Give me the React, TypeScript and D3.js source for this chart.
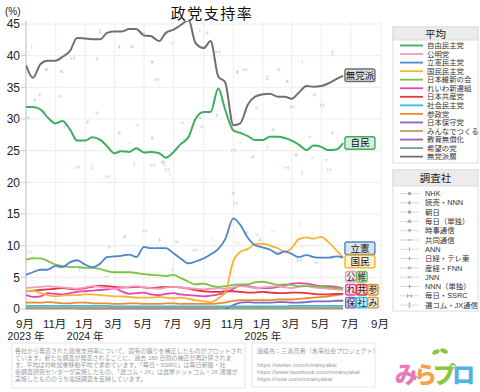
import React from 'react';
import * as d3 from 'd3';

// half-month sampling dates of the averaged lines
const dates = [
  '2023-09-01', '2023-09-15', '2023-10-01', '2023-10-15', '2023-11-01', '2023-11-15', '2023-12-01', '2023-12-15',
  '2024-01-01', '2024-01-15', '2024-02-01', '2024-02-15', '2024-03-01', '2024-03-15', '2024-04-01', '2024-04-15',
  '2024-05-01', '2024-05-15', '2024-06-01', '2024-06-15', '2024-07-01', '2024-07-15', '2024-08-01', '2024-08-15',
  '2024-09-01', '2024-09-15', '2024-10-01', '2024-10-15', '2024-11-01', '2024-11-15', '2024-12-01', '2024-12-15',
  '2025-01-01', '2025-01-15', '2025-02-01', '2025-02-15', '2025-03-01', '2025-03-15', '2025-04-01', '2025-04-15',
  '2025-05-01', '2025-05-15', '2025-06-01', '2025-06-15',
];

const jimin = [31.9, 31.9, 31.5, 30.3, 29.3, 29.7, 28.3, 26.6, 26.6, 27.1, 26.7, 25.7, 24.6, 24.9, 24.8, 25.4, 24.7, 24.8, 24.6, 23.9, 24.8, 26.0, 27.2, 30.0, 31.1, 31.1, 34.8, 31.5, 28.2, 27.8, 27.3, 26.7, 26.7, 27.2, 27.2, 27.0, 26.6, 26.0, 25.1, 25.8, 25.6, 25.1, 25.2, 26.2];
const komei = [3.3, 3.4, 3.5, 3.6, 3.5, 3.4, 3.3, 3.2, 3.4, 3.6, 3.5, 3.3, 3.2, 3.3, 3.5, 3.6, 3.4, 3.3, 3.2, 3.4, 3.5, 3.4, 3.3, 3.2, 3.1, 3.2, 3.3, 3.2, 3.4, 3.6, 3.5, 3.3, 3.4, 3.5, 3.6, 3.4, 3.3, 3.5, 3.6, 3.4, 3.3, 3.2, 3.1, 3.0];
const rikken = [5.4, 5.8, 6.2, 6.2, 6.8, 6.6, 7.4, 7.7, 7.0, 6.6, 7.2, 8.2, 8.3, 8.4, 8.6, 8.2, 9.8, 9.6, 9.6, 9.6, 8.8, 8.0, 7.2, 7.5, 8.0, 8.6, 9.5, 11.0, 14.3, 13.3, 11.2, 10.1, 9.7, 9.4, 8.7, 9.1, 8.7, 8.2, 8.5, 8.2, 8.1, 8.1, 8.3, 8.1];
const kokumin = [2.8, 2.9, 2.5, 2.2, 2.0, 2.1, 2.2, 2.2, 2.3, 2.3, 2.2, 2.1, 2.0, 2.0, 1.9, 1.8, 1.8, 1.8, 1.9, 1.8, 1.7, 1.8, 1.6, 1.4, 1.2, 1.1, 1.7, 2.6, 7.6, 9.0, 9.5, 10.2, 10.3, 10.0, 9.6, 9.0, 9.6, 11.0, 11.3, 11.1, 11.4, 10.6, 9.3, 8.1];
const ishin = [7.8, 8.0, 8.0, 7.6, 7.0, 6.8, 6.6, 6.6, 6.5, 6.5, 6.3, 6.0, 5.8, 5.8, 5.8, 5.7, 5.5, 5.4, 5.3, 5.2, 5.4, 4.9, 4.3, 3.9, 4.0, 3.7, 3.5, 3.6, 3.8, 3.9, 3.9, 4.2, 4.3, 4.1, 3.8, 3.9, 3.8, 3.6, 3.6, 3.6, 3.5, 3.4, 3.3, 3.3];
const reiwa = [2.2, 1.9, 2.0, 2.5, 2.4, 2.3, 2.5, 2.7, 2.8, 2.9, 3.0, 3.1, 3.3, 2.8, 2.4, 2.5, 2.6, 2.3, 2.2, 2.4, 2.5, 2.3, 2.2, 2.1, 2.0, 2.1, 2.3, 2.6, 3.2, 3.7, 3.6, 3.4, 3.3, 3.3, 3.5, 3.7, 4.0, 4.1, 4.0, 3.8, 3.6, 3.6, 3.5, 3.3];
const kyosan = [2.8, 2.9, 3.0, 3.1, 3.2, 3.3, 3.2, 3.1, 3.3, 3.5, 3.7, 3.6, 3.5, 3.4, 3.4, 3.5, 3.4, 3.3, 3.4, 3.5, 3.5, 3.4, 3.2, 3.0, 2.8, 2.7, 2.7, 2.8, 2.8, 2.7, 2.6, 2.6, 2.7, 2.6, 2.5, 2.5, 2.6, 2.6, 2.5, 2.4, 2.3, 2.3, 2.4, 2.4];
const shamin = [0.5, 0.5, 0.5, 0.5, 0.5, 0.5, 0.5, 0.5, 0.5, 0.5, 0.5, 0.5, 0.4, 0.4, 0.4, 0.4, 0.4, 0.4, 0.4, 0.4, 0.4, 0.4, 0.4, 0.4, 0.4, 0.4, 0.4, 0.4, 0.4, 0.4, 0.4, 0.4, 0.4, 0.4, 0.4, 0.4, 0.5, 0.5, 0.5, 0.5, 0.5, 0.5, 0.5, 0.5];
const sansei = [1.0, 1.0, 1.0, 1.1, 1.0, 0.9, 0.9, 1.0, 1.0, 0.9, 0.9, 0.9, 0.8, 0.8, 0.9, 0.9, 0.8, 0.8, 0.8, 0.9, 0.9, 0.8, 0.8, 0.8, 0.8, 0.8, 0.9, 1.0, 1.3, 1.4, 1.4, 1.4, 1.4, 1.4, 1.5, 1.5, 1.5, 1.6, 1.7, 1.8, 1.9, 2.0, 2.2, 2.3];
const hoshu = [null, null, null, null, null, null, null, null, null, null, null, null, null, null, null, null, null, null, null, null, null, null, null, null, null, null, null, 0.0, 0.6, 1.0, 1.1, 1.0, 1.0, 1.0, 1.1, 1.1, 1.0, 1.0, 1.1, 1.2, 1.2, 1.2, 1.3, 1.3];
const minna = [0.2, 0.2, 0.2, 0.2, 0.2, 0.2, 0.2, 0.2, 0.2, 0.2, 0.2, 0.2, 0.2, 0.2, 0.2, 0.2, 0.2, 0.2, 0.2, 0.2, 0.2, 0.2, 0.2, 0.2, 0.2, 0.2, 0.2, 0.2, 0.2, 0.2, 0.2, 0.2, 0.2, 0.2, 0.2, 0.2, 0.2, 0.2, 0.2, 0.2, 0.2, 0.2, 0.2, 0.2];
const kyoiku = [null, null, null, null, null, null, null, 0.1, 0.1, 0.1, 0.1, 0.1, 0.1, 0.1, 0.1, 0.1, 0.1, 0.1, 0.1, 0.1, 0.1, 0.1, 0.1, 0.1, 0.1, 0.1, 0.1, null, null, null, null, null, null, null, null, null, null, null, null, null, null, null, null, null];
const kibo = [0.05, 0.05, 0.05, 0.05, 0.05, 0.05, 0.05, 0.05, 0.05, 0.05, 0.05, 0.05, 0.05, 0.05, 0.05, 0.05, 0.05, 0.05, 0.05, 0.05, 0.05, 0.05, 0.05, 0.05, 0.05, 0.05, 0.05, 0.05, 0.05, 0.05, 0.05, 0.05, 0.05, 0.05, 0.05, 0.05, 0.05, 0.05, 0.05, 0.05, 0.05, 0.05, 0.05, 0.05];
const mutoha = [38.5, 36.5, 38.7, 39.2, 39.2, 39.8, 40.8, 42.8, 42.7, 42.6, 42.6, 43.6, 43.8, 43.8, 44.2, 44.2, 43.2, 43.1, 42.3, 43.6, 44.1, 44.8, 45.6, 42.0, 41.2, 42.3, 36.7, 35.8, 29.0, 29.3, 32.3, 33.5, 33.9, 34.0, 33.5, 33.5, 33.2, 34.1, 35.2, 35.1, 35.2, 35.6, 36.3, 36.8];

// individual poll results: [date, value, pollster index]
const jiminPolls = [
  ['2023-09-05', 30.2, 0], ['2023-09-19', 33.0, 1], ['2023-09-29', 33.8, 7], ['2023-10-09', 31.1, 3], ['2023-11-09', 33.6, 8],
  ['2023-11-19', 28.8, 4], ['2023-12-16', 22.4, 11], ['2024-01-06', 29.5, 1], ['2024-01-14', 22.3, 12], ['2024-01-25', 31.0, 7],
  ['2024-02-16', 20.9, 11], ['2024-03-11', 27.8, 0], ['2024-04-01', 26.2, 5], ['2024-04-11', 22.9, 12], ['2024-04-17', 29.1, 9],
  ['2024-05-18', 27.0, 2], ['2024-05-19', 22.7, 11], ['2024-06-08', 23.2, 3], ['2024-06-12', 23.0, 12], ['2024-06-18', 22.0, 11],
  ['2024-06-23', 21.3, 6], ['2024-07-19', 29.4, 8], ['2024-07-23', 26.7, 4], ['2024-08-24', 30.2, 0], ['2024-08-28', 28.8, 10],
  ['2024-09-28', 30.6, 1], ['2024-10-08', 33.0, 7], ['2024-11-01', 25.1, 11], ['2024-11-15', 26.2, 5], ['2024-12-11', 24.0, 2],
  ['2025-01-10', 25.6, 6], ['2025-01-22', 28.3, 8], ['2025-02-12', 27.0, 0], ['2025-02-19', 22.3, 11], ['2025-03-10', 24.3, 3],
  ['2025-03-22', 21.5, 12], ['2025-04-07', 27.2, 7], ['2025-04-13', 23.9, 9], ['2025-05-11', 23.5, 4], ['2025-05-17', 22.0, 11],
  ['2025-05-24', 27.8, 1],
];
const mutohaPolls = [
  ['2023-09-13', 41.4, 6], ['2023-10-13', 37.8, 0], ['2023-11-13', 37.5, 3], ['2023-12-06', 39.6, 11], ['2024-01-25', 39.5, 7],
  ['2024-02-01', 43.8, 12], ['2024-03-11', 41.4, 1], ['2024-04-07', 41.4, 8], ['2024-04-28', 43.6, 11], ['2024-05-18', 39.0, 0],
  ['2024-05-27', 36.2, 11], ['2024-06-29', 42.0, 5], ['2024-08-24', 44.0, 6], ['2024-09-08', 43.6, 10], ['2024-09-30', 40.6, 11],
  ['2024-11-09', 37.4, 2], ['2024-11-25', 37.8, 11], ['2024-12-19', 31.8, 9], ['2025-01-10', 36.5, 12], ['2025-02-02', 37.8, 7],
  ['2025-02-20', 35.9, 3], ['2025-03-02', 31.9, 11], ['2025-03-23', 39.0, 6], ['2025-04-17', 33.8, 8], ['2025-05-03', 32.2, 11],
  ['2025-05-24', 40.4, 12],
];
const rikkenPolls = [
  ['2024-02-20', 9.8, 7], ['2024-03-22', 11.4, 2], ['2024-05-02', 12.3, 11], ['2024-06-02', 10.9, 1], ['2024-07-07', 10.6, 8],
  ['2024-08-14', 9.3, 11], ['2024-09-20', 10.9, 6], ['2024-11-01', 18.3, 0], ['2024-11-05', 16.7, 11], ['2024-11-29', 12.0, 7],
  ['2024-12-26', 10.9, 3], ['2025-01-31', 8.8, 12], ['2025-03-17', 7.7, 11], ['2025-04-21', 7.3, 8], ['2025-05-24', 8.2, 1],
];
const kokuminPolls = [
  ['2024-11-09', 10.4, 11], ['2024-11-29', 9.3, 7], ['2024-12-19', 11.7, 0], ['2025-01-22', 12.2, 11], ['2025-03-17', 13.3, 12],
  ['2025-03-23', 9.8, 8], ['2025-04-13', 12.0, 6], ['2025-05-11', 10.9, 11],
];
const ishinPolls = [
  ['2023-09-09', 9.0, 11], ['2023-09-15', 8.2, 7], ['2023-12-20', 6.2, 12], ['2024-02-14', 5.1, 11], ['2024-05-12', 5.4, 8],
  ['2024-06-29', 6.2, 1],
];

const partyNames = ['自由民主党', '公明党', '立憲民主党', '国民民主党', '日本維新の会', 'れいわ新選組', '日本共産党', '社会民主党', '参政党', '日本保守党', 'みんなでつくる', '教育無償化', '希望の党', '無党派層'];
const partyColors = ['#3dad5e', '#f49ac1', '#4f86c6', '#f7b431', '#7cc242', '#e544b0', '#e2363b', '#33bde6', '#ee8a2a', '#8068c4', '#c59a58', '#a25ab8', '#6e9e9e', '#6f6f6f'];
const partyValues = [jimin, komei, rikken, kokumin, ishin, reiwa, kyosan, shamin, sansei, hoshu, minna, kyoiku, kibo, mutoha];
const drawOrder = [12, 11, 10, 9, 7, 8, 6, 5, 1, 4, 3, 2, 0, 13];

const pollSets = [
  { party: 0, polls: jiminPolls },
  { party: 13, polls: mutohaPolls },
  { party: 2, polls: rikkenPolls },
  { party: 3, polls: kokuminPolls },
  { party: 4, polls: ishinPolls },
];

const pollsters = ['NHK', '読売・NNN', '朝日', '毎日（単独）', '時事通信', '共同通信', 'ANN', '日経・テレ東', '産経・FNN', 'JNN', 'NNN（単独）', '毎日・SSRC', '選コム・JX通信'];

// end labels: text, party index, value level where box sits, column
const endLabels = [
  { text: '無党派', party: 13, at: 36.9, col: 0 },
  { text: '自民', party: 0, at: 26.2, col: 0 },
  { text: '立憲', party: 2, at: 9.6, col: 0 },
  { text: '国民', party: 3, at: 7.5, col: 0 },
  { text: '公', party: 1, at: 5.1, col: 0 },
  { text: '維', party: 4, at: 5.1, col: 1 },
  { text: 'れ', party: 5, at: 3.05, col: 0 },
  { text: '共', party: 6, at: 3.05, col: 1 },
  { text: '参', party: 8, at: 3.05, col: 2 },
  { text: '保', party: 9, at: 1.0, col: 0 },
  { text: '社', party: 7, at: 1.0, col: 1 },
  { text: 'み', party: 10, at: 1.0, col: 2 },
];

const yTicks = [0, 5, 10, 15, 20, 25, 30, 35, 40, 45];

const noteLines = [
  '各社から発表された政党支持率について、固有の偏りを補正したものがプロットされ',
  'ています。新たな調査が発表されるごとに、過去 180 日間の補正が再計算されま',
  'す。平均は対称加重移動平均で求めています。「毎日・SSRC」は毎日新聞・社',
  '会調査研究センターが実施したもの、「選コム・JX」は選挙ドットコム・JX 通信が',
  '実施したもののうち電話調査を反映しています。',
];
const contactLines = ['連絡先：三春充希（未来社会プロジェクト）', '', 'https://twitter.com/miraisyakai', 'https://www.facebook.com/miraisyakai', 'https://note.com/miraisyakai'];

const logoChars = ['み', 'ら', 'プ', 'ロ'];
const logoColors = ['#e47ab9', '#f5a24a', '#8cc63f', '#4fb3e6'];

const FONT = "'Liberation Sans', 'Noto Sans CJK JP', sans-serif";
const parse = d3.timeParse('%Y-%m-%d');

function marker(k: number, s: number): string {
  const h = s / 2;
  switch (k) {
    case 0: return d3.symbol(d3.symbolCircle, s * s * 0.6)() as string;
    case 1: return d3.symbol(d3.symbolDiamond, s * s * 0.5)() as string;
    case 2: return d3.symbol(d3.symbolSquare, s * s * 0.6)() as string;
    case 3: return d3.symbol(d3.symbolTriangle, s * s * 0.6)() as string;
    case 4: return `M${-h},${-h * 0.7}L${h},${-h * 0.7}L0,${h}Z`;
    case 5: return `M${-h},0H${h}`;
    case 6: return `M0,${-h}V${h}`;
    case 7: return `M${-h},0H${h}M0,${-h}V${h}`;
    case 8: return `M${-h},0H${h}M${-h * 0.6},${-h * 0.8}L${h * 0.6},${h * 0.8}M${h * 0.6},${-h * 0.8}L${-h * 0.6},${h * 0.8}`;
    case 9: return `M${-h * 0.8},${-h * 0.8}L${h * 0.8},${h * 0.8}M${h * 0.8},${-h * 0.8}L${-h * 0.8},${h * 0.8}`;
    case 10: return `M${-h},0H${h}M0,${-h}V${h}`;
    case 11: return `M${-h},${-h}V${h}M${h},${-h}V${h}M${-h},0H${h}`;
    default: return `M${-h * 0.6},${-h}H${h * 0.6}M0,${-h}V${h}M${-h * 0.6},${h}H${h * 0.6}`;
  }
}
const filledMarker = (k: number) => k <= 4;

export default function App() {
  const x = d3.scaleTime().domain([new Date(2023, 8, 1), new Date(2025, 8, 1)]).range([26, 381]);
  const y = d3.scaleLinear().domain([0, 45]).range([309, 24]);
  const dts = dates.map((d) => parse(d) as Date);
  const xTicks = x.ticks(d3.timeMonth.every(2) as d3.TimeInterval);
  const xEnd = x(dts[dts.length - 1]);

  const line = d3
    .line<number | null>()
    .defined((v) => v != null)
    .x((_, i) => x(dts[i]))
    .y((v) => y(v as number))
    .curve(d3.curveMonotoneX);

  const tint = (c: string, t: number) => d3.interpolateRgb('#ffffff', c)(t);

  return (
    <svg width={480} height={392} style={{ position: 'absolute', left: 0, top: 0, fontFamily: FONT }}>
      <rect width={480} height={392} fill="#fff" />
      <defs>
        <clipPath id="plot">
          <rect x={26} y={21} width={356} height={292} />
        </clipPath>
      </defs>

      {/* grid */}
      {yTicks.map((t) => (
        <line key={'gy' + t} x1={26} x2={381} y1={y(t)} y2={y(t)} stroke="#ededed" />
      ))}
      {xTicks.map((t, i) => (
        <line key={'gx' + i} x1={x(t)} x2={x(t)} y1={21} y2={309} stroke="#ededed" />
      ))}
      <line x1={26} x2={26} y1={21} y2={310} stroke="#d4d4d4" strokeWidth={1.5} />
      {yTicks.map((t) => (
        <g key={'ty' + t}>
          <line x1={21} x2={26} y1={y(t)} y2={y(t)} stroke="#c8c8c8" />
          <text x={20} y={y(t) + 4.3} textAnchor="end" fontSize={12} fill="#222">
            {t}
          </text>
        </g>
      ))}
      {xTicks.map((t, i) => (
        <g key={'tx' + i}>
          <text x={x(t) - 1} y={327.5} textAnchor="middle" fontSize={11.5} fill="#222">
            {`${t.getMonth() + 1}月`}
          </text>
          {(i === 0 || t.getMonth() === 0) && (
            <text x={x(t)} y={340} textAnchor="middle" fontSize={10.5} fill="#222">
              {`${t.getFullYear()} 年`}
            </text>
          )}
        </g>
      ))}
      <text x={5} y={15} fontSize={10} fill="#222">(%)</text>
      <text x={212} y={19} textAnchor="middle" fontSize={15} letterSpacing={1.5} fill="#111">
        政党支持率
      </text>

      {/* poll points */}
      <g clipPath="url(#plot)">
        {pollSets.map((ps) =>
          ps.polls.map((p, i) => {
            const k = p[2] as number;
            const c = tint(partyColors[ps.party], 0.3);
            return (
              <path
                key={ps.party + '-' + i}
                d={marker(k, 3.6)}
                transform={`translate(${x(parse(p[0] as string) as Date)},${y(p[1] as number)})`}
                fill={filledMarker(k) ? c : 'none'}
                stroke={filledMarker(k) ? 'none' : c}
                strokeWidth={0.9}
              />
            );
          })
        )}
      </g>

      {/* averaged lines */}
      <g clipPath="url(#plot)">
        {drawOrder.map((p) => (
          <path
            key={'l' + p}
            d={line(partyValues[p] as (number | null)[]) as string}
            fill="none"
            stroke={partyColors[p]}
            strokeWidth={p === 0 || p === 13 ? 2 : 1.8}
            strokeLinejoin="round"
          />
        ))}
      </g>

      {/* end labels */}
      {endLabels.map((l) => {
        const wide = l.text.length > 1;
        const w = wide ? 30 : 10.5;
        const h = wide ? 12.5 : 10.5;
        const bx = wide ? xEnd + 1.8 : xEnd + 2.5 + l.col * 11;
        const by = y(l.at) - h / 2;
        const c = partyColors[l.party];
        return (
          <g key={'el' + l.text}>
            <rect x={bx} y={by} width={w} height={h} rx={2} fill={tint(c, 0.22)} stroke={c} strokeWidth={1.4} />
            <text x={bx + w / 2} y={by + h / 2 + 3.3} textAnchor="middle" fontSize={wide ? 9.5 : 8.8} fill="#111">
              {l.text}
            </text>
          </g>
        );
      })}

      {/* legend: averages */}
      <g>
        <rect x={393} y={27} width={85} height={136} fill="#fff" stroke="#dcdcdc" />
        <rect x={393} y={27} width={85} height={13} fill="#ececec" stroke="#dcdcdc" />
        <text x={435.5} y={37.5} textAnchor="middle" fontSize={10.5} fill="#222">平均</text>
        {partyNames.map((n, i) => (
          <g key={'lg' + n} transform={`translate(0,${45.5 + i * 8.55})`}>
            <line x1={400} x2={423} y1={0} y2={0} stroke={partyColors[i]} strokeWidth={1.8} />
            <text x={427} y={2.6} fontSize={7.4} fill="#333">{n}</text>
          </g>
        ))}
      </g>

      {/* legend: pollsters */}
      <g>
        <rect x={393} y={170} width={85} height={141} fill="#fff" stroke="#dcdcdc" />
        <rect x={393} y={170} width={85} height={16} fill="#ececec" stroke="#dcdcdc" />
        <text x={435.5} y={182} textAnchor="middle" fontSize={10.5} fill="#222">調査社</text>
        {pollsters.map((n, i) => (
          <g key={'lp' + n} transform={`translate(0,${193.5 + i * 9.3})`}>
            <line x1={400} x2={419} y1={0} y2={0} stroke="#cfcfcf" strokeWidth={0.8} />
            <path
              d={marker(i, 4)}
              transform="translate(409.5,0)"
              fill={filledMarker(i) ? '#a8a8a8' : 'none'}
              stroke={filledMarker(i) ? 'none' : '#a8a8a8'}
              strokeWidth={0.9}
            />
            <text x={425} y={2.6} fontSize={7.4} fill="#333">{n}</text>
          </g>
        ))}
      </g>

      {/* footer notes */}
      <rect x={12} y={343} width={233} height={45} fill="none" stroke="#e6e6e6" />
      {noteLines.map((t, i) => (
        <text key={'n' + i} x={15} y={353 + i * 7.1} fontSize={6} fill="#9b9b9b">{t}</text>
      ))}
      <rect x={252} y={343} width={123} height={44} fill="none" stroke="#e6e6e6" />
      {contactLines.map((t, i) => (
        <text key={'c' + i} x={257} y={353 + i * 6.9} fontSize={6.1} fill="#9b9b9b">{t}</text>
      ))}

      {/* logo */}
      <ellipse cx={436} cy={352} rx={4} ry={2.2} fill="#8cc63f" transform="rotate(-25,436,352)" />
      <ellipse cx={444} cy={351} rx={4} ry={2.2} fill="#8cc63f" transform="rotate(25,444,351)" />
      <text
        x={395}
        y={383}
        fontSize={23}
        fontWeight={900}
        fontFamily="'Noto Sans CJK JP', sans-serif"
        stroke="#fff"
        strokeWidth={1}
        paintOrder="stroke"
        letterSpacing={-4}
      >
        {logoChars.map((c, i) => (
          <tspan key={'lg' + c} fill={logoColors[i]}>{c}</tspan>
        ))}
      </text>
    </svg>
  );
}
